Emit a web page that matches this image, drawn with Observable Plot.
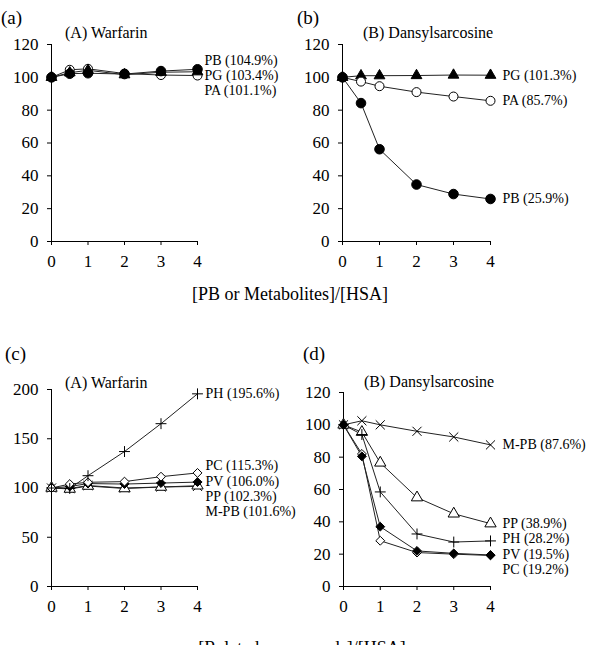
<!DOCTYPE html>
<html>
<head>
<meta charset="utf-8">
<script src="https://cdn.jsdelivr.net/npm/d3@7"></script>
<script src="https://cdn.jsdelivr.net/npm/@observablehq/plot@0.6"></script>
<style>
  html, body { margin: 0; padding: 0; background: #fff; }
  #fig { position: relative; width: 589px; height: 645px; overflow: hidden;
         font-family: "Liberation Serif", "Times New Roman", serif; color: #000; }
  #fig svg { position: absolute; background: transparent; overflow: visible; max-width: none; }
  .t { position: absolute; line-height: 1; white-space: nowrap; }
</style>
</head>
<body>
<div id="fig"></div>
<script>
// Molar ratio of added compound to HSA
const ratio = [0, 0.5, 1, 2, 3, 4];

// (a) warfarin fluorescence (% of control) with PB and its metabolites
const warfPB = [100, 102.2, 102.5, 102.0, 103.8, 104.9];
const warfPG = [100, 102.8, 104.3, 101.6, 103.1, 103.4];
const warfPA = [100, 104.6, 105.2, 102.3, 101.4, 101.1];

// (b) dansylsarcosine fluorescence with PB and its metabolites
const dansPG = [100, 101.0, 101.0, 101.1, 101.4, 101.3];
const dansPA = [100, 97.4, 94.6, 91.0, 88.3, 85.7];
const dansPB = [100, 84.3, 56.2, 34.7, 28.9, 25.9];

// (c) warfarin fluorescence with related compounds
const warfPH  = [100, 99.5, 112.5, 137.0, 165.3, 195.6];
const warfPC  = [100, 104.0, 105.8, 106.5, 111.5, 115.3];
const warfPV  = [100, 101.5, 104.5, 104.0, 105.0, 106.0];
const warfPP  = [100, 99.0, 102.0, 99.5, 101.0, 102.3];
const warfMPB = [100, 99.5, 102.5, 100.0, 101.0, 101.6];

// (d) dansylsarcosine fluorescence with related compounds
const dansMPB = [100, 102.5, 100.0, 96.0, 92.5, 87.6];
const dansPP  = [100, 95.5, 76.5, 55.0, 45.0, 38.9];
const dansPH  = [100, 94.0, 58.5, 32.5, 27.5, 28.2];
const dansPV  = [100, 80.5, 37.0, 22.0, 20.5, 19.5];
const dansPC  = [100, 82.0, 28.3, 21.0, 20.0, 19.2];

const xTicks = [0, 1, 2, 3, 4];
const yTicks120 = [0, 20, 40, 60, 80, 100, 120];
const yTicks200 = [0, 50, 100, 150, 200];

// Marker style for each compound
const markers = {
  "PB":   {symbol: "circle",   r: 4.8, fill: "black", stroke: "black"},
  "PA":   {symbol: "circle",   r: 4.5, fill: "white", stroke: "black"},
  "PG":   {symbol: "triangle", r: 4.0, fill: "black", stroke: "black"},
  "PP":   {symbol: "triangle", r: 4.2, fill: "white", stroke: "black"},
  "PC":   {symbol: "diamond2", r: 4.0, fill: "white", stroke: "black"},
  "PV":   {symbol: "diamond2", r: 4.0, fill: "black", stroke: "black"},
  "PH":   {symbol: "plus",     r: 3.6, fill: "none",  stroke: "black"},
  "M-PB": {symbol: "times",    r: 4.2, fill: "none",  stroke: "black"}
};

const panels = [
  {left: 0,   top: 0,   width: 290, height: 270, mt: 44, mb: 29, ml: 51, mr: 93, yTicks: yTicks120, dx: 7,  shift: -9,
   series: [["PA", warfPA], ["PB", warfPB], ["PG", warfPG]]},
  {left: 290, top: 0,   width: 299, height: 270, mt: 44, mb: 29, ml: 52, mr: 99, yTicks: yTicks120, dx: 12, shift: 0,
   series: [["PG", dansPG], ["PA", dansPA], ["PB", dansPB]]},
  {left: 0,   top: 330, width: 300, height: 290, mt: 59, mb: 34, ml: 51, mr: 103, yTicks: yTicks200, dx: 8, shift: -7,
   series: [["M-PB", warfMPB], ["PP", warfPP], ["PV", warfPV], ["PC", warfPC], ["PH", warfPH]]},
  {left: 290, top: 330, width: 299, height: 290, mt: 62, mb: 34, ml: 53, mr: 99, yTicks: yTicks120, dx: 12, shift: -2,
   series: [["M-PB", dansMPB], ["PP", dansPP], ["PH", dansPH], ["PC", dansPC], ["PV", dansPV]]}
];

const fig = document.getElementById("fig");
const labelGap = 15.3;

for (const p of panels) {
  const yMax = p.yTicks[p.yTicks.length - 1];
  const innerH = p.height - p.mt - p.mb;
  const toPx = v => p.mt + innerH * (1 - v / yMax);
  const toVal = px => yMax * (1 - (px - p.mt) / innerH);

  const rows = p.series.flatMap(([name, vals]) => vals.map((v, i) => ({name, x: ratio[i], y: v})));

  // End labels: ordered by final value, pushed apart so they do not overlap;
  // labels that end up stacked in a group get the panel's group shift
  const ends = p.series.map(([name, vals]) => ({name, last: vals[vals.length - 1]}))
    .sort((a, b) => b.last - a.last);
  let prev = -Infinity;
  for (const e of ends) {
    e.px = Math.max(toPx(e.last), prev + labelGap);
    prev = e.px;
    e.text = `${e.name} (${e.last.toFixed(1)}%)`;
  }
  ends.forEach((e, i) => {
    const stacked = (i > 0 && e.px - ends[i - 1].px < labelGap + 0.5) ||
                    (i < ends.length - 1 && ends[i + 1].px - e.px < labelGap + 0.5);
    e.ly = toVal(e.px + (stacked ? p.shift : 0));
  });

  const marks = [
    Plot.line(rows, {x: "x", y: "y", z: "name", stroke: "#222", strokeWidth: 1})
  ];
  for (const [name] of p.series) {
    const m = markers[name];
    marks.push(Plot.dot(rows.filter(d => d.name === name), {
      x: "x", y: "y", symbol: () => m.symbol, r: m.r, fill: m.fill, stroke: m.stroke, strokeWidth: 1
    }));
  }
  marks.push(Plot.text(ends, {x: () => 4, y: "ly", text: "text", textAnchor: "start", dx: p.dx, fontSize: 14}));

  const svg = Plot.plot({
    width: p.width, height: p.height,
    marginTop: p.mt, marginBottom: p.mb, marginLeft: p.ml, marginRight: p.mr,
    style: {background: "transparent", overflow: "visible", fontFamily: "Liberation Serif, Times New Roman, serif", fontSize: "17px", color: "black"},
    symbol: {type: "identity"},
    x: {domain: [0, 4], ticks: xTicks, tickFormat: d3.format("d"), line: true, tickSize: 4, tickPadding: 9, label: null},
    y: {domain: [0, yMax], ticks: p.yTicks, tickFormat: d3.format("d"), line: true, tickSize: 4, tickPadding: 9, label: null},
    marks
  });
  svg.style.left = p.left + "px";
  svg.style.top = p.top + "px";
  fig.appendChild(svg);
}

// Panel letters, panel titles and shared axis titles
function addText(str, size, left, centerY, anchor) {
  const s = document.createElement("span");
  s.className = "t";
  s.textContent = str;
  s.style.fontSize = size + "px";
  s.style.top = (centerY - size * 0.5) + "px";
  s.style.left = left + "px";
  if (anchor === "middle") s.style.transform = "translateX(-50%)";
  fig.appendChild(s);
}
addText("(a)", 19, 1, 17);
addText("(b)", 19, 297, 17);
addText("(c)", 19, 5, 353);
addText("(d)", 19, 303, 353);
addText("(A) Warfarin", 16, 65, 33);
addText("(B) Dansylsarcosine", 16, 363, 33);
addText("(A) Warfarin", 16, 65, 383);
addText("(B) Dansylsarcosine", 16, 364, 382);
addText("[PB or Metabolites]/[HSA]", 18, 290, 294, "middle");
addText("[Related compounds]/[HSA]", 18, 302, 648, "middle");
</script>
</body>
</html>
